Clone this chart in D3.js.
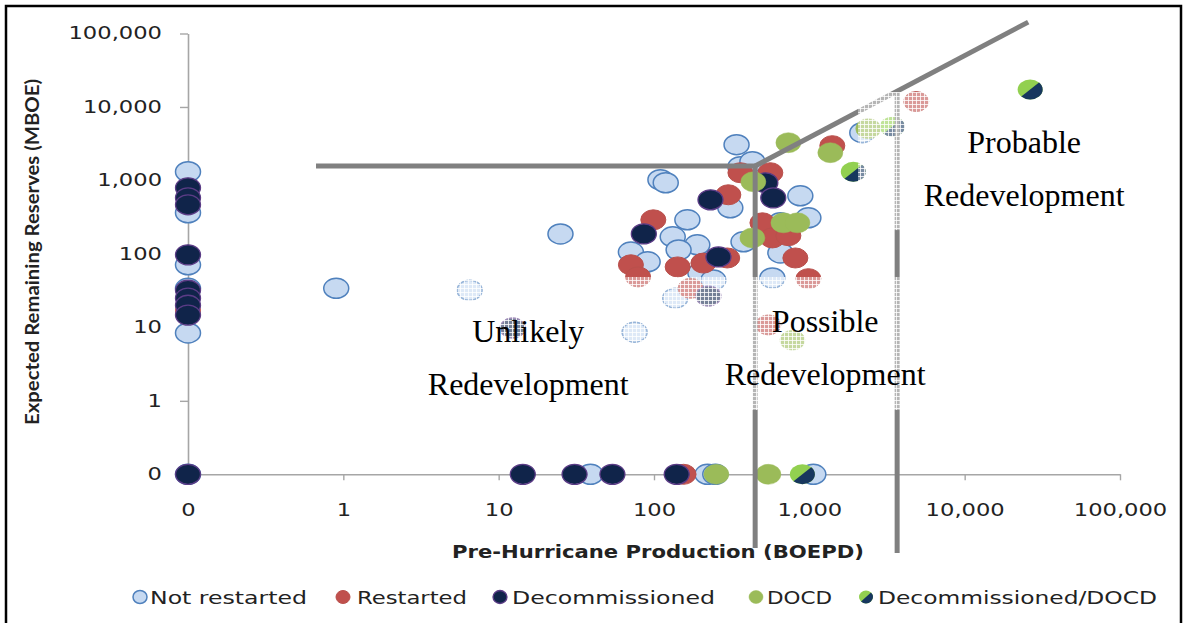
<!DOCTYPE html>
<html>
<head>
<meta charset="utf-8">
<script src="https://cdn.jsdelivr.net/npm/d3@7"></script>
<style>
  html, body { margin: 0; padding: 0; background: #ffffff; }
  svg { display: block; }
</style>
</head>
<body>
<svg id="chart" width="1183" height="623"></svg>
<script>
// Each point: [pre-hurricane production (BOEPD), expected remaining reserves (MBOE)].
// Zero values sit on the 0.1 gridline of the log axes, which is labelled "0".
const notRestarted = [
  [0.1, 1313], [0.1, 363], [0.1, 71], [0.1, 34], [0.1, 8.4], [0.1, 0.1],
  [0.9, 34], [6.5, 32], [75, 8.6], [25, 187],
  [340, 3070], [110, 1021], [119, 930], [360, 1537], [430, 1800],
  [310, 424], [164, 291], [132, 171], [190, 133], [144, 113],
  [71, 106], [91, 78], [199, 55], [241, 44], [137, 25],
  [377, 146], [875, 618], [986, 310], [651, 103], [578, 47], [651, 265],
  [2193, 4470],
  [39, 0.1], [221, 0.1], [248, 0.1], [1061, 0.1]
];
const restarted = [
  [0.1, 17], [99, 291], [71, 71], [79, 48.6], [142, 66.5], [208, 75], [296, 88],
  [301, 638], [360, 1273], [561, 1273], [499, 265], [578, 165], [733, 177], [813, 88],
  [1406, 2970], [4875, 11830], [986, 46], [545, 10.8], [172, 34], [155, 0.1]
];
const decommissioned = [
  [0.1, 794], [0.1, 580], [0.1, 466], [0.1, 97], [0.1, 32], [0.1, 25], [0.1, 20], [0.1, 14.7], [0.1, 0.1],
  [12.3, 9.8], [86, 187], [231, 545], [260, 91], [521, 929], [586, 580], [224, 26.7],
  [14.3, 0.1], [30.8, 0.1], [54, 0.1], [140, 0.1]
];
const docd = [
  [436, 959], [733, 3265], [1365, 2385], [681, 265], [838, 265], [430, 165],
  [2395, 5070], [778, 6.7], [252, 0.1], [545, 0.1]
];
const decommissionedDocd = [
  [1919, 1313], [26400, 17260], [3420, 5400], [902, 0.1]
];

const seriesNames = ["Not restarted", "Restarted", "Decommissioned", "DOCD", "Decommissioned/DOCD"];
const tickValues = [0.1, 1, 10, 100, 1000, 10000, 100000];
const xTitle = "Pre-Hurricane Production (BOEPD)";
const yTitle = "Expected Remaining Reserves (MBOE)";

// Redevelopment zone boundaries, in data units
const floorLine = [[0.667, 1572], [448, 1572]];
const risingLine = [[448, 1572], [25650, 143000]];
const possibleEdge = [[448, 1572], [448, 0.0099]];
const probableEdgeX = 3675;
const probableEdgeBottom = 0.0085;

// Zone captions: [production, reserves] anchor of the first line
const zoneLabels = [
  { lines: ["Unlikely", "Redevelopment"], at: [15.5, 6.3] },
  { lines: ["Possible", "Redevelopment"], at: [1265, 8.6] },
  { lines: ["Probable", "Redevelopment"], at: [24150, 2360] }
];

// Text boxes with a lattice fill that lighten what lies beneath them
const latticeBoxes = [
  { x0: 3.1, x1: 6000, y0: 0.75, y1: 48.5 },
  { x0: 2060, x1: 16950, y0: 211, y1: 15960 }
];

function draw() {
  const svg = d3.select("#chart");
  const x = d3.scaleLog().domain([0.1, 100000]).range([188, 1120]);
  const y = d3.scaleLog().domain([0.1, 100000]).range([474.3, 33.5]);

  const stretch = (sel, k) => sel.each(function () {
    const w = this.getComputedTextLength();
    d3.select(this).attr("textLength", w * k).attr("lengthAdjust", "spacingAndGlyphs");
  });

  const defs = svg.append("defs");
  const pat = defs.append("pattern").attr("id", "lattice")
    .attr("width", 4).attr("height", 4).attr("patternUnits", "userSpaceOnUse");
  pat.append("rect").attr("width", 4).attr("height", 4).attr("fill", "#ffffff").attr("fill-opacity", 0.42);
  pat.append("path").attr("d", "M0 0.5H4M0.5 0V4")
    .attr("stroke", "#ffffff").attr("stroke-opacity", 0.8).attr("stroke-width", 1);

  // outer frame
  svg.append("rect").attr("x", 6).attr("y", 6).attr("width", 1175).attr("height", 660)
    .attr("fill", "none").attr("stroke", "#000").attr("stroke-width", 2.5);

  const fmt = d3.format(",.0f");
  const axisColor = "#a6a6a6";

  const gy = svg.append("g").attr("transform", `translate(${x(0.1)},0)`)
    .call(d3.axisLeft(y).tickValues(tickValues).tickFormat(fmt).tickSize(8).tickSizeOuter(0).tickPadding(18));
  const gx = svg.append("g").attr("transform", `translate(0,${y(0.1)})`)
    .call(d3.axisBottom(x).tickValues(tickValues).tickFormat(fmt).tickSize(6).tickSizeOuter(0).tickPadding(24));

  [gy, gx].forEach(g => {
    g.select(".domain").attr("stroke", axisColor).attr("stroke-width", 1.6);
    g.selectAll(".tick line").attr("stroke", axisColor).attr("stroke-width", 1.4);
    g.selectAll(".tick text").attr("fill", "#222").attr("font-family", "DejaVu Sans")
      .attr("font-size", 17);
    stretch(g.selectAll(".tick text"), 1.33);
  });
  gx.select(".tick line").attr("display", "none");

  // axis titles
  svg.append("text").attr("x", 658).attr("y", 558).attr("text-anchor", "middle")
    .attr("font-family", "DejaVu Sans").attr("font-weight", "bold").attr("font-size", 17)
    .attr("fill", "#222").text(xTitle)
    .call(s => s.attr("textLength", 412).attr("lengthAdjust", "spacingAndGlyphs"));
  svg.append("text").attr("transform", "translate(39,252) rotate(-90)").attr("text-anchor", "middle")
    .attr("font-family", "Lato").attr("font-weight", "bold").attr("font-size", 18)
    .attr("fill", "#222").text(yTitle)
    .call(s => s.attr("textLength", 346).attr("lengthAdjust", "spacingAndGlyphs"));

  // markers
  const RX = 12.5, RY = 10;
  const styles = [
    { fill: "#c6d9f1", stroke: "#4f81bd", sw: 1.5 },
    { fill: "#c0504d", stroke: "#b9504c", sw: 1 },
    { fill: "#10244a", stroke: "#5b3c86", sw: 1.3 },
    { fill: "#9bbb59", stroke: "#9bbb59", sw: 0.5 }
  ];
  const plain = [notRestarted, restarted, decommissioned, docd];
  const gm = svg.append("g");
  plain.forEach((pts, i) => {
    gm.append("g").selectAll("ellipse").data(pts).join("ellipse")
      .attr("cx", d => x(d[0])).attr("cy", d => y(d[1]))
      .attr("rx", RX).attr("ry", RY)
      .attr("fill", styles[i].fill).attr("stroke", styles[i].stroke).attr("stroke-width", styles[i].sw);
  });
  const halfPath = (rx, ry) => {
    const a = rx * Math.SQRT1_2, b = ry * Math.SQRT1_2;
    return `M${a},${-b}A${rx},${ry} 0 0 1 ${-a},${b}Z`;
  };
  const split = gm.append("g").selectAll("g").data(decommissionedDocd).join("g")
    .attr("transform", d => `translate(${x(d[0])},${y(d[1])})`);
  split.append("ellipse").attr("rx", RX).attr("ry", RY).attr("fill", "#92d050");
  split.append("path").attr("d", halfPath(RX, RY)).attr("fill", "#17375e");

  // zone boundaries
  const line = d3.line().x(d => x(d[0])).y(d => y(d[1]));
  const gl = svg.append("g").attr("fill", "none").attr("stroke", "#808080").attr("stroke-width", 5);
  gl.append("path").attr("d", line(floorLine));
  gl.append("path").attr("d", line(risingLine));
  gl.append("path").attr("d", line(possibleEdge));
  const t = (Math.log(probableEdgeX) - Math.log(risingLine[0][0])) /
            (Math.log(risingLine[1][0]) - Math.log(risingLine[0][0]));
  const topY = Math.exp(Math.log(risingLine[0][1]) + t * (Math.log(risingLine[1][1]) - Math.log(risingLine[0][1])));
  gl.append("path").attr("d", line([[probableEdgeX, topY], [probableEdgeX, probableEdgeBottom]]));

  // lattice text boxes
  svg.append("g").selectAll("rect").data(latticeBoxes).join("rect")
    .attr("x", d => x(d.x0)).attr("width", d => x(d.x1) - x(d.x0))
    .attr("y", d => y(d.y1)).attr("height", d => y(d.y0) - y(d.y1))
    .attr("fill", "url(#lattice)");

  // zone captions
  const gz = svg.append("g").attr("font-family", "Liberation Serif").attr("font-size", 32)
    .attr("fill", "#000").attr("text-anchor", "middle");
  zoneLabels.forEach(z => {
    z.lines.forEach((txt, i) => {
      gz.append("text").attr("x", x(z.at[0])).attr("y", y(z.at[1]) + i * 53).text(txt);
    });
  });

  // legend
  const legendMarkX = [140, 343, 500, 756, 866];
  const legendTextX = [150, 357, 512, 767, 878];
  const legendTextW = [157, 110, 203, 65, 279];
  const lg = svg.append("g");
  seriesNames.forEach((name, i) => {
    const g = lg.append("g").attr("transform", `translate(${legendMarkX[i]},597)`);
    if (i < 4) {
      g.append("ellipse").attr("rx", 7).attr("ry", 6.5)
        .attr("fill", styles[i].fill).attr("stroke", styles[i].stroke).attr("stroke-width", styles[i].sw);
    } else {
      g.append("ellipse").attr("rx", 7).attr("ry", 6.5).attr("fill", "#92d050");
      g.append("path").attr("d", halfPath(7, 6.5)).attr("fill", "#17375e");
    }
    lg.append("text").attr("x", legendTextX[i]).attr("y", 604)
      .attr("font-family", "DejaVu Sans").attr("font-size", 17).attr("fill", "#222")
      .attr("textLength", legendTextW[i]).attr("lengthAdjust", "spacingAndGlyphs")
      .text(name);
  });
}

(document.fonts && document.fonts.ready ? document.fonts.ready : Promise.resolve()).then(draw);
</script>
</body>
</html>
